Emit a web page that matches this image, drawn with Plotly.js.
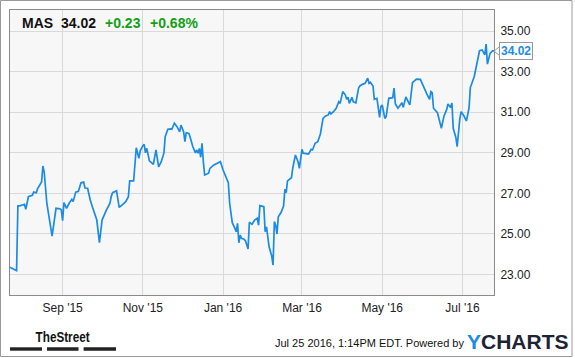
<!DOCTYPE html>
<html>
<head>
<meta charset="utf-8">
<script src="https://cdn.plot.ly/plotly-3.0.1.min.js"></script>
<style>
html,body{margin:0;padding:0;background:#fff;}
#chart{width:575px;height:358px;}
</style>
</head>
<body>
<div id="chart"></div>
<script>
var dates = [
"2015-07-23","2015-07-27","2015-07-28","2015-07-29","2015-07-31","2015-08-03","2015-08-04","2015-08-06","2015-08-09","2015-08-10",
"2015-08-12","2015-08-13","2015-08-16","2015-08-17","2015-08-18","2015-08-20","2015-08-24","2015-08-27","2015-08-30","2015-08-31",
"2015-09-01","2015-09-02","2015-09-04","2015-09-06","2015-09-08","2015-09-09","2015-09-11","2015-09-13","2015-09-15","2015-09-17",
"2015-09-18","2015-09-20","2015-09-22","2015-09-24","2015-09-27","2015-09-29","2015-10-01","2015-10-04","2015-10-06","2015-10-07",
"2015-10-08","2015-10-09","2015-10-12","2015-10-14","2015-10-17","2015-10-19","2015-10-21","2015-10-22","2015-10-25","2015-10-27",
"2015-10-29","2015-10-30","2015-11-01","2015-11-02","2015-11-03","2015-11-04","2015-11-06","2015-11-08","2015-11-09","2015-11-11",
"2015-11-13","2015-11-15","2015-11-17","2015-11-18","2015-11-20","2015-11-22","2015-11-23","2015-11-25","2015-11-27","2015-11-29",
"2015-11-30","2015-12-02","2015-12-03","2015-12-04","2015-12-06","2015-12-07","2015-12-09","2015-12-11","2015-12-12","2015-12-13",
"2015-12-14","2015-12-15","2015-12-16","2015-12-17","2015-12-18","2015-12-21","2015-12-22","2015-12-25","2015-12-28","2015-12-30",
"2016-01-01","2016-01-04","2016-01-05","2016-01-06","2016-01-08","2016-01-10","2016-01-11","2016-01-12","2016-01-13","2016-01-14",
"2016-01-15","2016-01-17","2016-01-18","2016-01-20","2016-01-21","2016-01-23","2016-01-25","2016-01-27","2016-01-28","2016-01-29",
"2016-02-01","2016-02-02","2016-02-03","2016-02-05","2016-02-07","2016-02-08","2016-02-09","2016-02-10","2016-02-11","2016-02-12",
"2016-02-14","2016-02-16","2016-02-17","2016-02-18","2016-02-19","2016-02-22","2016-02-23","2016-02-25","2016-02-27","2016-02-28",
"2016-03-01","2016-03-02","2016-03-06","2016-03-08","2016-03-09","2016-03-11","2016-03-13","2016-03-15","2016-03-17","2016-03-19",
"2016-03-21","2016-03-22","2016-03-23","2016-03-25","2016-03-27","2016-03-29","2016-03-30","2016-04-01","2016-04-03","2016-04-04",
"2016-04-05","2016-04-06","2016-04-08","2016-04-09","2016-04-11","2016-04-13","2016-04-14","2016-04-16","2016-04-18","2016-04-20",
"2016-04-21","2016-04-22","2016-04-24","2016-04-25","2016-04-27","2016-04-29","2016-04-30","2016-05-01","2016-05-03","2016-05-04",
"2016-05-06","2016-05-09","2016-05-10","2016-05-11","2016-05-13","2016-05-16","2016-05-17","2016-05-19","2016-05-21","2016-05-22",
"2016-05-24","2016-05-26","2016-05-27","2016-05-30","2016-06-02","2016-06-04","2016-06-06","2016-06-07","2016-06-08","2016-06-09",
"2016-06-12","2016-06-14","2016-06-15","2016-06-17","2016-06-19","2016-06-20","2016-06-22","2016-06-23","2016-06-24","2016-06-26",
"2016-06-27","2016-06-29","2016-06-30","2016-07-02","2016-07-04","2016-07-06","2016-07-07","2016-07-10","2016-07-12","2016-07-14",
"2016-07-16","2016-07-18","2016-07-19","2016-07-20","2016-07-22","2016-07-24","2016-07-25"
];
var prices = [
23.35,23.21,23.18,26.37,26.39,26.46,26.21,26.83,26.90,27.06,
27.03,27.23,27.56,28.35,28.05,26.51,24.89,26.26,26.24,26.18,
25.65,26.54,26.26,26.51,26.70,26.59,27.06,27.10,27.52,27.56,
27.26,27.25,26.67,26.26,25.68,24.56,25.68,26.13,26.42,26.51,
26.85,27.03,27.13,26.31,26.47,26.59,26.83,27.61,27.61,29.25,
28.73,29.10,29.35,29.42,29.00,29.22,28.60,28.48,28.43,29.14,
28.31,28.56,28.98,29.80,30.16,30.18,30.16,30.46,30.29,30.04,
30.37,30.04,29.55,29.99,29.96,29.77,29.30,29.00,29.14,28.98,
29.22,28.78,29.47,28.56,27.90,27.99,28.23,28.40,28.51,28.56,
28.15,27.69,27.53,26.51,25.55,25.27,25.10,25.52,24.56,24.94,
24.78,24.73,24.66,24.25,25.57,25.47,25.68,25.77,25.43,26.39,
26.34,25.10,25.35,24.36,23.90,23.46,25.60,25.43,24.99,25.84,
26.04,26.37,27.20,27.03,27.61,27.77,28.25,28.89,28.56,28.23,
29.17,28.98,28.94,29.17,29.14,29.47,29.55,29.93,30.70,30.82,
30.87,31.03,30.92,31.03,31.20,31.52,31.44,32.02,31.85,31.64,
31.74,31.44,31.74,31.52,31.47,32.19,32.30,32.38,32.43,32.68,
32.43,32.48,32.30,31.64,31.69,30.75,31.28,31.36,30.70,30.78,
31.69,31.72,32.20,31.41,31.20,31.47,31.25,31.76,31.44,31.36,
32.46,32.60,32.64,32.63,32.14,31.90,31.64,32.02,31.97,31.20,
30.98,30.55,30.21,30.82,31.13,31.41,31.24,31.46,30.21,29.76,
29.30,30.67,31.03,30.84,30.57,31.20,32.22,32.77,33.50,34.04,
34.08,33.83,34.37,33.38,33.91,34.04,34.02
];
var xTickVals = ["2015-09-01","2015-11-01","2016-01-01","2016-03-01","2016-05-01","2016-07-01"];
var xTickText = ["Sep '15","Nov '15","Jan '16","Mar '16","May '16","Jul '16"];
var yTickVals = [23,25,27,29,31,33,35];
var yTickText = ["23.00","25.00","27.00","29.00","31.00","33.00","35.00"];
var ticker = "MAS";
var lastPrice = "34.02";
var change = "+0.23";
var changePct = "+0.68%";
var stamp = "Jul 25 2016, 1:14PM EDT. Powered by";

var FONT = "Liberation Sans, Arial, sans-serif";
var BLUE = "#1a8be6";
var lastVal = prices[prices.length-1];

var trace = {
  x: dates, y: prices, type: "scatter", mode: "lines",
  line: {color: BLUE, width: 1.7}, hoverinfo: "skip"
};

var layout = {
  width: 575, height: 358,
  margin: {l: 10, r: 81, t: 10, b: 63},
  paper_bgcolor: "#ffffff",
  plot_bgcolor: "#f7f7f7",
  showlegend: false,
  font: {family: FONT, size: 12, color: "#222"},
  xaxis: {
    type: "date",
    range: ["2015-07-23", "2016-07-25"],
    tickmode: "array", tickvals: xTickVals, ticktext: xTickText,
    showgrid: true, gridcolor: "#d9d9d9", gridwidth: 1,
    zeroline: false, ticks: "", ticklabelstandoff: 2,
    showline: true, linecolor: "#8a8a8a", linewidth: 1, mirror: true,
    tickfont: {family: FONT, size: 12, color: "#222"}
  },
  yaxis: {
    side: "right",
    range: [21.98, 36.05],
    tickmode: "array", tickvals: yTickVals, ticktext: yTickText,
    showgrid: true, gridcolor: "#d9d9d9", gridwidth: 1,
    zeroline: false, ticks: "", ticklabelstandoff: 3,
    showline: true, linecolor: "#8a8a8a", linewidth: 1, mirror: true,
    tickfont: {family: FONT, size: 12, color: "#222"}
  },
  annotations: [
    {xref: "paper", yref: "paper", x: 0.0207, y: 0.954, xanchor: "left", yanchor: "middle", showarrow: false,
     text: "<b>" + ticker + "</b>", font: {family: FONT, size: 14, color: "#111"}},
    {xref: "paper", yref: "paper", x: 0.1012, y: 0.954, xanchor: "left", yanchor: "middle", showarrow: false,
     text: "<b>" + lastPrice + "</b>", font: {family: FONT, size: 14, color: "#111"}},
    {xref: "paper", yref: "paper", x: 0.1921, y: 0.954, xanchor: "left", yanchor: "middle", showarrow: false,
     text: "<b>" + change + "</b>", font: {family: FONT, size: 14, color: "#14a014"}},
    {xref: "paper", yref: "paper", x: 0.2851, y: 0.954, xanchor: "left", yanchor: "middle", showarrow: false,
     text: "<b>" + changePct + "</b>", font: {family: FONT, size: 14, color: "#14a014"}},
    {xref: "paper", yref: "y", x: 1.0107, y: lastVal, xanchor: "left", yanchor: "middle", showarrow: false,
     text: "<b>" + lastVal.toFixed(2) + "</b>", font: {family: FONT, size: 12, color: BLUE},
     bgcolor: "#ffffff", bordercolor: "#999999", borderwidth: 1, borderpad: 1},
    {xref: "paper", yref: "paper", x: 0.0331, y: -0.145, xanchor: "left", yanchor: "middle", showarrow: false,
     text: "<b>TheStreet</b>", font: {family: FONT, size: 15, color: "#111"}},
    {xref: "paper", yref: "paper", x: 0.5434, y: -0.170, xanchor: "left", yanchor: "middle", showarrow: false,
     text: stamp, font: {family: FONT, size: 11, color: "#111"}},
    {xref: "paper", yref: "paper", x: 0.9401, y: -0.1625, xanchor: "left", yanchor: "middle", showarrow: false,
     text: "<b><span style='color:#1a8be6'>Y</span>CHARTS</b>", font: {family: FONT, size: 21, color: "#1d2433"}}
  ],
  shapes: [
    {type: "path", xref: "paper", yref: "y",
     path: "M 1.0107," + (lastVal + 0.2) + " L 1.0,"+ lastVal + " L 1.0107," + (lastVal - 0.2),
     line: {color: "#999999", width: 1}},
    {type: "rect", xref: "paper", yref: "paper",
     x0: (0.5 - 10) / 484, x1: (572 - 10) / 484, y0: (295 - 356.5) / 285, y1: (295 - 0.5) / 285,
     line: {color: "#9a9a9a", width: 1}, fillcolor: "rgba(0,0,0,0)"},
    {type: "rect", xref: "paper", yref: "paper", x0: 0.0, x1: 0.0661, y0: -0.1835, y1: -0.1954,
     line: {width: 0}, fillcolor: "#222"},
    {type: "rect", xref: "paper", yref: "paper", x0: 0.0764, x1: 0.1415, y0: -0.1835, y1: -0.1954,
     line: {width: 0}, fillcolor: "#222"},
    {type: "rect", xref: "paper", yref: "paper", x0: 0.1521, x1: 0.2190, y0: -0.1835, y1: -0.1954,
     line: {width: 0}, fillcolor: "#222"}
  ]
};

Plotly.newPlot("chart", [trace], layout, {displayModeBar: false, staticPlot: true}).then(function (gd) {
  var texts = gd.querySelectorAll(".annotation-text");
  texts.forEach(function (t) {
    if (t.textContent === "TheStreet") {
      t.setAttribute("textLength", "54");
      t.setAttribute("lengthAdjust", "spacingAndGlyphs");
    }
  });
});
</script>
</body>
</html>
